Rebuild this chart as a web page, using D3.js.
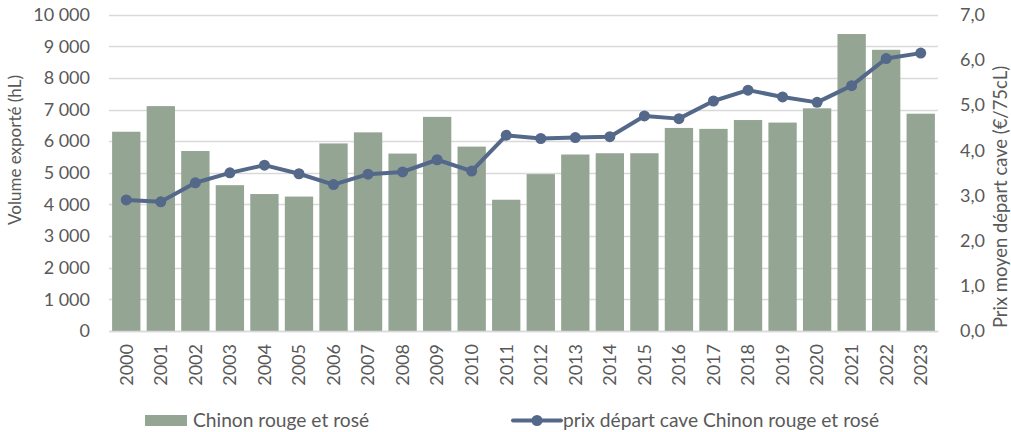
<!DOCTYPE html>
<html>
<head>
<meta charset="utf-8">
<script src="https://cdn.jsdelivr.net/npm/d3@7"></script>
<style>
  html, body { margin: 0; padding: 0; background: #fff; }
  svg { display: block; }
  text { font-family: Lato, "Noto Sans", sans-serif; fill: #595959; }
</style>
</head>
<body>
<svg id="chart" width="1011" height="432"></svg>
<script>
const years = ["2000","2001","2002","2003","2004","2005","2006","2007","2008","2009","2010","2011","2012","2013","2014","2015","2016","2017","2018","2019","2020","2021","2022","2023"];
const volumes = [6300,7110,5690,4610,4330,4250,5930,6280,5610,6770,5830,4150,4960,5580,5620,5620,6420,6390,6670,6590,7040,9390,8890,6870];
const prices = [2.90,2.86,3.28,3.50,3.67,3.48,3.24,3.47,3.52,3.79,3.54,4.33,4.26,4.28,4.30,4.76,4.70,5.09,5.33,5.18,5.06,5.43,6.03,6.15];
const leftTicks = [0,1000,2000,3000,4000,5000,6000,7000,8000,9000,10000];
const rightTicks = [0,1,2,3,4,5,6,7];
const barLabel = "Chinon rouge et rosé";
const lineLabel = "prix départ cave Chinon rouge et rosé";
const leftTitle = "Volume exporté (hL)";
const rightTitle = "Prix moyen départ cave (€/75cL)";

const svg = d3.select("#chart");
const L = 109, R = 938, T = 14.7, B = 331;
const barColor = "#94a594", lineColor = "#54688a", gridColor = "#d9d9d9";
const fs = 18;

const x = d3.scaleBand().domain(years).range([L, R]).paddingInner(0.18).paddingOuter(0.09);
const yL = d3.scaleLinear().domain([0, 10000]).range([B, T]);
const yR = d3.scaleLinear().domain([0, 7]).range([B, T]);

const loc = d3.formatLocale({decimal: ",", thousands: "\u00a0", grouping: [3], currency: ["", "€"]});
const fmtL = loc.format(",d");
const fmtR = loc.format(".1f");

// gridlines
svg.append("g").selectAll("line").data(leftTicks).join("line")
  .attr("x1", L).attr("x2", R)
  .attr("y1", d => Math.round(yL(d)) + 0.5).attr("y2", d => Math.round(yL(d)) + 0.5)
  .attr("stroke", gridColor).attr("stroke-width", 1.3);

// left axis
const axL = svg.append("g").attr("transform", `translate(${L},0)`)
  .call(d3.axisLeft(yL).tickValues(leftTicks).tickFormat(fmtL).tickSize(0).tickPadding(19));
axL.select(".domain").remove();
axL.selectAll("text").attr("font-size", fs).style("fill", "#595959").attr("font-family", null);

// right axis
const axR = svg.append("g").attr("transform", `translate(${R},0)`)
  .call(d3.axisRight(yR).tickValues(rightTicks).tickFormat(fmtR).tickSize(0).tickPadding(22));
axR.select(".domain").remove();
axR.selectAll("text").attr("font-size", fs).style("fill", "#595959").attr("font-family", null);

// bars
svg.append("g").selectAll("rect").data(years).join("rect")
  .attr("x", d => x(d)).attr("width", x.bandwidth())
  .attr("y", (d, i) => yL(volumes[i])).attr("height", (d, i) => B - yL(volumes[i]))
  .attr("fill", barColor);

// bottom axis
const axB = svg.append("g").attr("transform", `translate(0,${B})`)
  .call(d3.axisBottom(x).tickSize(0).tickPadding(0));
axB.select(".domain").attr("stroke", gridColor).attr("stroke-width", 1.3);
axB.selectAll("text")
  .attr("font-size", fs).style("fill", "#595959").attr("font-family", null)
  .attr("text-anchor", "end").attr("dy", "0.35em")
  .attr("transform", "translate(0,13) rotate(-90)").attr("y", 0).attr("x", 0);

// line
const cx = d => x(d) + x.bandwidth() / 2;
svg.append("path").datum(years)
  .attr("d", d3.line().x(d => cx(d)).y((d, i) => yR(prices[i])))
  .attr("fill", "none").attr("stroke", lineColor).attr("stroke-width", 4).attr("stroke-linejoin", "round");
svg.append("g").selectAll("circle").data(years).join("circle")
  .attr("cx", d => cx(d)).attr("cy", (d, i) => yR(prices[i])).attr("r", 5.5)
  .attr("fill", lineColor);

// axis titles
svg.append("text").attr("transform", `translate(21,150) rotate(-90)`)
  .attr("text-anchor", "middle").attr("font-size", 17).text(leftTitle);
svg.append("text").attr("transform", `translate(1007,197) rotate(-90)`)
  .attr("text-anchor", "middle").attr("font-size", 18.4).text(rightTitle);

// legend
const lg = svg.append("g");
lg.append("rect").attr("x", 145).attr("y", 415).attr("width", 42).attr("height", 11).attr("fill", barColor);
lg.append("text").attr("x", 193).attr("y", 427).attr("font-size", 19.2).text(barLabel);
lg.append("line").attr("x1", 513).attr("x2", 561).attr("y1", 420.5).attr("y2", 420.5)
  .attr("stroke", lineColor).attr("stroke-width", 4).attr("stroke-linecap", "round");
lg.append("circle").attr("cx", 537).attr("cy", 420.5).attr("r", 5.5).attr("fill", lineColor);
lg.append("text").attr("x", 563).attr("y", 427).attr("font-size", 19.2).text(lineLabel);
</script>
</body>
</html>
